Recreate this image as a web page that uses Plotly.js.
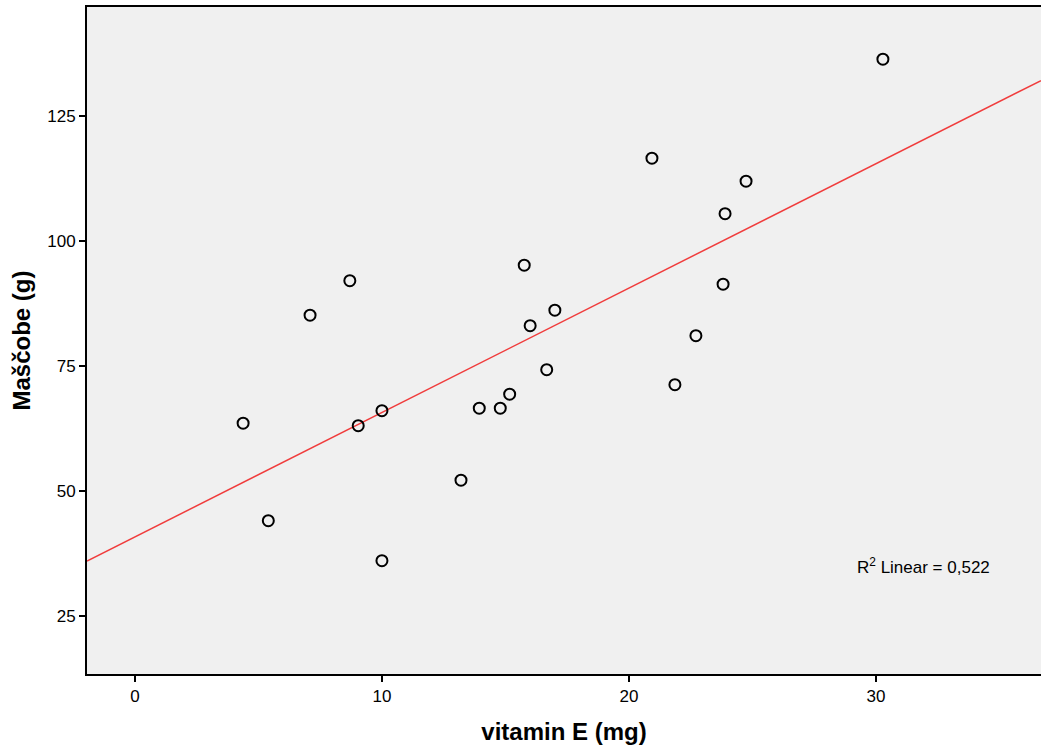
<!DOCTYPE html>
<html>
<head>
<meta charset="utf-8">
<script src="https://cdn.plot.ly/plotly-3.0.1.min.js"></script>
<style>html,body{margin:0;padding:0;background:#fff;}#chart{width:1041px;height:747px;}</style>
</head>
<body>
<div id="chart"></div>
<script>
const vitaminE = [4.38, 5.40, 7.09, 8.70, 9.04, 10.0, 10.0, 13.20, 13.94, 14.79, 15.17, 15.76, 16.0, 16.67, 17.0, 20.93, 21.86, 22.71, 23.81, 23.89, 24.74, 30.28];
const mascobe  = [63.5, 44.0, 85.1, 92.0, 63.0, 66.0, 36.0, 52.1, 66.5, 66.5, 69.3, 95.1, 83.0, 74.2, 86.1, 116.5, 71.2, 81.0, 91.3, 105.4, 111.9, 136.3];
const xTicks = [0, 10, 20, 30];
const yTicks = [25, 50, 75, 100, 125];
const xRange = [-1.94, 36.68];
const yRange = [13.34, 146.74];
const r2Label = 'R<sup>2</sup> Linear = 0,522';

// least-squares fit from the data
const n = vitaminE.length;
const mx = vitaminE.reduce((a,b)=>a+b,0)/n;
const my = mascobe.reduce((a,b)=>a+b,0)/n;
let sxy = 0, sxx = 0;
for (let i=0;i<n;i++){ sxy += (vitaminE[i]-mx)*(mascobe[i]-my); sxx += (vitaminE[i]-mx)**2; }
const slope = sxy/sxx, intercept = my - slope*mx;
const fitX = [xRange[0], xRange[1]];
const fitY = fitX.map(x => intercept + slope*x);

const traces = [
  {x: fitX, y: fitY, type: 'scatter', mode: 'lines', line: {color: '#F03C3C', width: 1.5}, hoverinfo: 'skip', showlegend: false},
  {x: vitaminE, y: mascobe, type: 'scatter', mode: 'markers',
   marker: {symbol: 'circle-open', size: 11, color: '#000', line: {width: 2, color: '#000'}}, showlegend: false}
];

const FONT = 'Liberation Sans, Arial, sans-serif';
const axisCommon = {
  showline: true, linecolor: '#000', linewidth: 2, mirror: true,
  ticks: 'outside', ticklen: 6, tickwidth: 2, tickcolor: '#000',
  showgrid: false, zeroline: false,
  tickfont: {family: FONT, size: 17, color: '#000'}
};

const layout = {
  width: 1041, height: 747,
  margin: {l: 87, r: 0, t: 7, b: 73},
  paper_bgcolor: '#fff', plot_bgcolor: '#F0F0F0',
  xaxis: Object.assign({}, axisCommon, {
    range: xRange, tickvals: xTicks, ticktext: xTicks.map(String),
    title: {text: 'vitamin E (mg)', standoff: 18, font: {family: FONT, size: 24, color: '#000', weight: 'bold'}}
  }),
  yaxis: Object.assign({}, axisCommon, {
    range: yRange, tickvals: yTicks, ticktext: yTicks.map(String),
    title: {text: 'Maščobe (g)', standoff: 10, font: {family: FONT, size: 24, color: '#000', weight: 'bold'}}
  }),
  annotations: [{
    text: r2Label, xref: 'paper', yref: 'paper', x: 0.805, y: 0.162, xanchor: 'left', yanchor: 'middle',
    showarrow: false, font: {family: FONT, size: 17, color: '#000'}
  }]
};

Plotly.newPlot('chart', traces, layout, {displayModeBar: false, staticPlot: true});
</script>
</body>
</html>
